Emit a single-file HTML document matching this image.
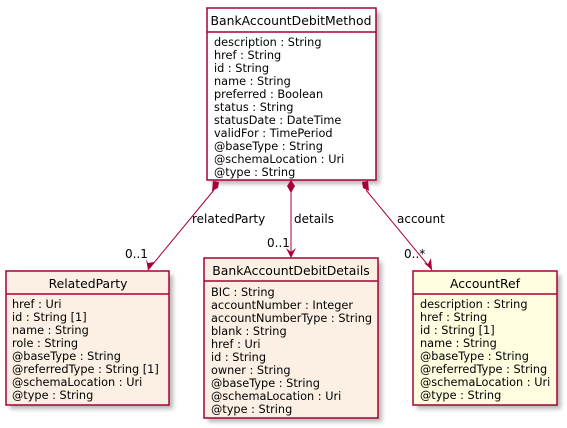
<!DOCTYPE html>
<html><head><style>body{margin:0;background:#fff}svg{display:block}text{font-family:"DejaVu Sans","Liberation Sans",sans-serif;font-size:11.3px;fill:#000}.t{font-size:12.4px}.l{font-size:12px}</style></head><body>
<svg width="567" height="428" xmlns="http://www.w3.org/2000/svg">
<defs><filter id="s" x="-10%" y="-10%" width="130%" height="130%"><feGaussianBlur stdDeviation="2"/></filter></defs>
<g fill="#888" opacity="0.6" filter="url(#s)">
<rect x="211" y="12" width="169" height="172"/>
<rect x="10" y="275" width="163" height="134"/>
<rect x="208" y="262" width="174" height="160"/>
<rect x="417" y="275" width="144" height="134"/>
</g>
<g stroke="#A80036" stroke-width="1.5">
<rect x="207" y="8" width="169" height="172" fill="#fff"/><line x1="207" y1="32" x2="376" y2="32"/>
<rect x="6" y="271" width="163" height="134" fill="#FBF0E3"/><line x1="6" y1="294" x2="169" y2="294"/>
<rect x="204" y="258" width="174" height="160" fill="#FBF0E3"/><line x1="204" y1="281" x2="378" y2="281"/>
<rect x="413" y="271" width="144" height="134" fill="#FEFDE0"/><line x1="413" y1="294" x2="557" y2="294"/>
<line x1="214" y1="190" x2="148" y2="270" stroke-width="1"/>
<line x1="291" y1="192" x2="291" y2="257" stroke-width="1"/>
<line x1="366" y1="190" x2="432" y2="270" stroke-width="1"/>
</g>
<g fill="#A80036">
<polygon points="213,181 219,182 218,188 212,191"/>
<polygon points="291,180 295,186 291,193 287,186"/>
<polygon points="362,182 368,181 369,191 363,188"/>
<polygon points="148,270 146,259 148,263 154,262"/>
<polygon points="291,258 286,248 291,252 296,248"/>
<polygon points="432,270 424,263 428,264 431,258"/>
</g>
<text x="291" y="25" text-anchor="middle" class="t">BankAccountDebitMethod</text>
<g>
<text x="214" y="46">description : String</text><text x="214" y="59">href : String</text><text x="214" y="72">id : String</text><text x="214" y="85">name : String</text><text x="214" y="98">preferred : Boolean</text><text x="214" y="111">status : String</text><text x="214" y="124">statusDate : DateTime</text><text x="214" y="137">validFor : TimePeriod</text><text x="214" y="150">@baseType : String</text><text x="214" y="163">@schemaLocation : Uri</text><text x="214" y="176">@type : String</text>
</g>
<text x="88" y="288" text-anchor="middle" class="t">RelatedParty</text>
<text x="12" y="308">href : Uri</text><text x="12" y="321">id : String [1]</text><text x="12" y="334">name : String</text><text x="12" y="347">role : String</text><text x="12" y="360">@baseType : String</text><text x="12" y="373">@referredType : String [1]</text><text x="12" y="386">@schemaLocation : Uri</text><text x="12" y="399">@type : String</text>
<text x="291" y="275" text-anchor="middle" class="t">BankAccountDebitDetails</text>
<text x="211" y="296">BIC : String</text><text x="211" y="309">accountNumber : Integer</text><text x="211" y="322">accountNumberType : String</text><text x="211" y="335">blank : String</text><text x="211" y="348">href : Uri</text><text x="211" y="361">id : String</text><text x="211" y="374">owner : String</text><text x="211" y="387">@baseType : String</text><text x="211" y="400">@schemaLocation : Uri</text><text x="211" y="413">@type : String</text>
<text x="485" y="288" text-anchor="middle" class="t">AccountRef</text>
<text x="420" y="308">description : String</text><text x="420" y="321">href : String</text><text x="420" y="334">id : String [1]</text><text x="420" y="347">name : String</text><text x="420" y="360">@baseType : String</text><text x="420" y="373">@referredType : String</text><text x="420" y="386">@schemaLocation : Uri</text><text x="420" y="399">@type : String</text>
<text x="192" y="223" class="l">relatedParty</text>
<text x="294" y="223" class="l">details</text>
<text x="397" y="223" class="l">account</text>
<text x="125" y="258" class="l">0..1</text>
<text x="267" y="247" class="l">0..1</text>
<text x="404" y="258" class="l">0..*</text>
</svg>
</body></html>
